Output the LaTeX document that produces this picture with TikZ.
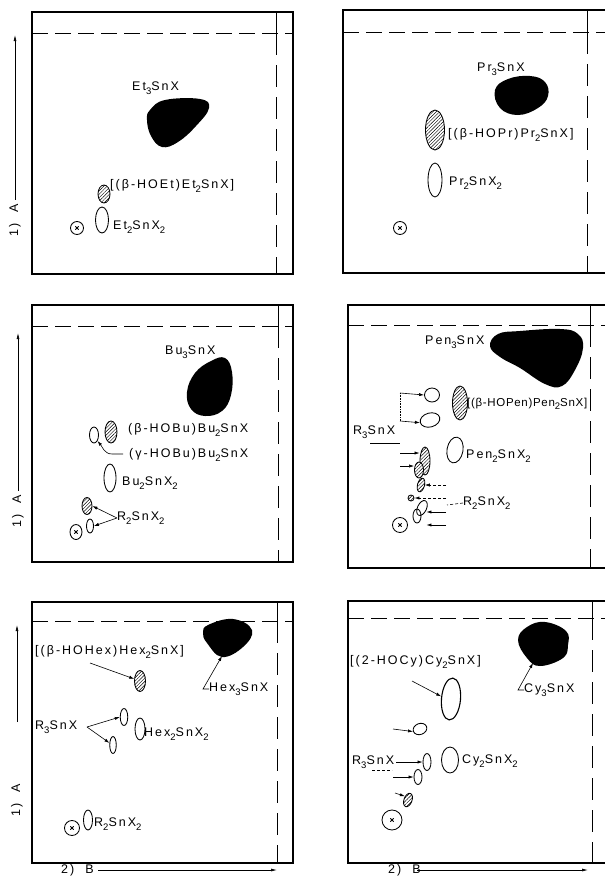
\documentclass[tikz,border=0pt]{standalone}
\usepackage{fontspec}
\setmainfont{Liberation Sans}
\newfontfamily\labf[LetterSpace=16]{Liberation Sans}
\newfontfamily\labn[LetterSpace=6]{Liberation Sans}
\usetikzlibrary{arrows.meta,shapes.geometric,patterns.meta}
\newcommand\sbs[1]{\raisebox{-0.55ex}{\fontsize{9.5}{9.5}\selectfont #1}}
\tikzset{
  frame/.style={line width=1.15pt},
  dsh/.style={line width=0.8pt, dash pattern=on 16pt off 7pt},
  vdsh/.style={line width=0.7pt, dash pattern=on 22pt off 10pt},
  lab/.style={inner sep=0pt, anchor=west, font=\labf\fontsize{12.5}{14}\selectfont},
  labnar/.style={inner sep=0pt, anchor=west, font=\labn\fontsize{11.5}{13}\selectfont},
  axl/.style={inner sep=4pt, font=\labf\fontsize{12.5}{14}\selectfont},
  spot/.style={ellipse, draw, line width=0.85pt, inner sep=0pt},
  hspot/.style={spot, preaction={fill=white}, pattern={Lines[angle=45,distance=2.4pt,line width=0.45pt]}},
  cx/.style={ellipse, draw, line width=0.85pt, inner sep=0pt, minimum size=13pt,
    path picture={\draw[line width=0.8pt]
      ([shift={(-1.7pt,-1.7pt)}]path picture bounding box.center) -- ([shift={(1.7pt,1.7pt)}]path picture bounding box.center)
      ([shift={(-1.7pt,1.7pt)}]path picture bounding box.center) -- ([shift={(1.7pt,-1.7pt)}]path picture bounding box.center);}},
  arr/.style={-{Latex[length=5pt,width=3.2pt]}, line width=0.6pt},
  axarr/.style={-{Latex[length=6pt,width=3pt]}, line width=0.7pt},
  blob/.style={fill=black},
  lead/.style={line width=0.6pt},
}
\begin{document}
\begin{tikzpicture}[x=1pt,y=-1pt]
\useasboundingbox (0,0) rectangle (605,884);
\fill[white] (0,0) rectangle (605,884);
\clip (0,0) rectangle (605,884);

% ================= Panel 1 (Et) =================
\draw[frame] (32,12) rectangle (293,274);
\draw[dsh] (32,33) -- (293,33);
\draw[line width=0.7pt] (276,12) -- (276,33);
\draw[vdsh] (276,33) -- (276,274);
\node[axl, rotate=90] (ax1) at (15,220) {1)~~A};
\coordinate (ax1t) at (15,35);
\draw[axarr] (ax1.east) -- (ax1t);
\fill[blob] plot[smooth cycle, tension=0.7] coordinates {(150,110) (165,100) (200,99) (209,108) (196,126) (178,142) (162,147) (151,136) (147,120)};
\node[lab] (l1a) at (132,88) {Et\sbs{3}SnX};
\node[hspot, minimum width=12pt, minimum height=18pt] (s1b) at (104,194) {};
\node[lab] (l1b) at (110,186) {[(β-HOEt)Et\sbs{2}SnX]};
\node[spot, minimum width=13pt, minimum height=26pt] (s1c) at (102,220) {};
\node[lab] (l1c) at (113,227) {Et\sbs{2}SnX\sbs{2}};
\node[cx] (o1) at (77,228) {};

% ================= Panel 2 (Pr) =================
\draw[frame] (610,10) -- (343,10) -- (343,273) -- (610,273);
\draw[dsh] (343,32) -- (610,32);
\draw[line width=0.7pt] (587,10) -- (587,32);
\draw[vdsh] (587,32) -- (587,273);
\fill[blob] plot[smooth cycle, tension=0.7] coordinates {(495,90) (508,79) (530,76) (545,82) (548,96) (538,108) (518,115) (500,108)};
\node[lab] (l2a) at (477,69) {Pr\sbs{3}SnX};
\node[hspot, minimum width=19pt, minimum height=40pt] (s2b) at (435,130) {};
\node[lab] (l2b) at (448,135) {[(β-HOPr)Pr\sbs{2}SnX]};
\node[spot, minimum width=14pt, minimum height=34pt] (s2c) at (435,180) {};
\node[lab] (l2c) at (449,183) {Pr\sbs{2}SnX\sbs{2}};
\node[cx] (o2) at (400,228) {};

% ================= Panel 3 (Bu) =================
\draw[frame] (32,305) rectangle (293,562);
\draw[dsh] (32,326) -- (293,326);
\draw[line width=0.7pt] (278,305) -- (278,326);
\draw[vdsh] (278,326) -- (278,562);
\node[axl, rotate=90] (ax3) at (18,511) {1)~~A};
\coordinate (ax3t) at (18,333);
\draw[axarr] (ax3.east) -- (ax3t);
\fill[blob] plot[smooth cycle, tension=0.7] coordinates {(187,392) (195,373) (211,361) (225,358) (232,372) (231,395) (222,411) (205,416) (191,409)};
\node[lab] (l3a) at (165,352) {Bu\sbs{3}SnX};
\node[hspot, minimum width=12pt, minimum height=22pt] (s3b) at (111,432) {};
\node[spot, minimum width=9pt, minimum height=16pt] (s3c) at (94,435) {};
\node[lab] (l3b) at (128,430) {(β-HOBu)Bu\sbs{2}SnX};
\node[lab] (l3c) at (129,455) {(γ-HOBu)Bu\sbs{2}SnX};
\coordinate (t3c) at (123,454);
\draw[arr] (t3c) -- (112,454) to[out=180,in=-50] (s3c.south east);
\node[spot, minimum width=12pt, minimum height=28pt] (s3d) at (110,478) {};
\node[lab] (l3d) at (122,483) {Bu\sbs{2}SnX\sbs{2}};
\node[hspot, minimum width=10pt, minimum height=17pt] (s3e) at (87,506) {};
\node[spot, minimum width=7pt, minimum height=14pt] (s3f) at (90,526) {};
\node[lab] (l3e) at (117,518) {R\sbs{2}SnX\sbs{2}};
\draw[arr] (l3e.west) -- (s3e.east);
\draw[arr] (l3e.west) -- (s3f.east);
\node[cx, minimum width=12pt, minimum height=15pt] (o3) at (76,532) {};

% ================= Panel 4 (Pen) =================
\draw[frame] (610,305) -- (348,305) -- (348,568) -- (610,568);
\draw[dsh] (348,325) -- (610,325);
\draw[line width=0.7pt] (590,305) -- (590,325);
\draw[vdsh] (590,325) -- (590,568);
\fill[blob] plot[smooth cycle, tension=0.7] coordinates {(490,346) (498,334) (520,331) (560,329) (578,334) (583,348) (575,370) (562,386) (545,384) (520,368) (500,357)};
\node[lab] (l4a) at (425,342) {Pen\sbs{3}SnX};
\node[spot, minimum width=15pt, minimum height=14pt] (s4a) at (432,395) {};
\node[spot, minimum width=20pt, minimum height=14pt, rotate=15] (s4b) at (430,420) {};
\node[hspot, minimum width=15pt, minimum height=34pt] (s4c) at (460,403) {};
\node[labnar] (l4c) at (467,404) {[(β-HOPen)Pen\sbs{2}SnX]};
\node[lab] (l4r) at (353,432) {R\sbs{3}SnX};
\coordinate (b4t) at (400,393);
\coordinate (b4m) at (400,421);
\draw[lead, densely dotted] (b4t) -- (b4m);
\draw[arr] (b4t) -- (s4a.west);
\draw[arr] (b4m) -- (s4b.west);
\coordinate (u4a) at (370,443);
\coordinate (u4b) at (400,443);
\draw[lead] (u4a) -- (u4b);
\node[hspot, minimum width=10pt, minimum height=28pt] (s4d) at (425,461) {};
\node[hspot, minimum width=9pt, minimum height=16pt] (s4e) at (419,470) {};
\coordinate (a4c) at (400,453);
\coordinate (a4d) at (400,466);
\draw[arr] (a4c) -- (a4c -| s4d.west);
\draw[arr] (a4d) -- (a4d -| s4e.west);
\node[hspot, minimum width=7pt, minimum height=14pt, rotate=-15] (s4f) at (421,485) {};
\node[hspot, minimum size=6pt] (s4g) at (411,498) {};
\node[spot, minimum width=9pt, minimum height=16pt, rotate=-25] (s4h) at (422,508) {};
\node[spot, minimum width=8pt, minimum height=14pt] (s4i) at (417,516) {};
\node[cx, minimum size=15pt] (o4) at (400,525) {};
\coordinate (t4a) at (446,485);
\coordinate (t4b) at (446,498);
\coordinate (t4c) at (446,512);
\coordinate (t4d) at (446,525);
\draw[arr, densely dashed] (t4a) -- (t4a -| s4f.east);
\draw[arr, densely dashed] (t4b) -- (t4b -| s4g.east);
\draw[arr] (t4c) -- (t4c -| s4h.east);
\draw[arr] (t4d) -- (t4d -| s4h.east);
\node[spot, minimum width=16pt, minimum height=26pt, rotate=-10] (s4j) at (455,450) {};
\node[lab] (l4j) at (466,456) {Pen\sbs{2}SnX\sbs{2}};
\node[lab] (l4k) at (463,503) {R\sbs{2}SnX\sbs{2}};
\coordinate (t4l) at (447,505);
\draw[lead, densely dashed] (l4k.west) -- (t4l);

% ================= Panel 5 (Hex) =================
\draw[frame] (32,602) rectangle (293,863);
\draw[dsh] (32,621) -- (293,621);
\draw[line width=0.7pt] (277,602) -- (277,621);
\draw[vdsh] (277,621) -- (277,863);
\node[axl, rotate=90] (ax5) at (17,800) {1)~~A};
\coordinate (ax5b) at (17,722);
\coordinate (ax5t) at (17,625);
\draw[axarr] (ax5b) -- (ax5t);
\node[axl, anchor=west, inner sep=0pt] (bx5) at (61,870) {2)~~B};
\coordinate (bx5s) at (98,870);
\coordinate (bx5t) at (277,870);
\draw[axarr] (bx5s) -- (bx5t);
\fill[blob] plot[smooth cycle, tension=0.7] coordinates {(208,625) (233,619) (252,630) (243,647) (222,657) (207,643) (203,633)};
\coordinate (h5) at (222,656);
\node[lab] (l5a) at (209,689) {Hex\sbs{3}SnX};
\draw[arr] (l5a.west) -- ++(-6pt,0pt) -- (h5);
\node[hspot, minimum width=11pt, minimum height=21pt] (s5b) at (140,681) {};
\node[lab] (l5b) at (35,652) {[(β-HOHex)Hex\sbs{2}SnX]};
\coordinate (t5b) at (90,663);
\draw[arr] (t5b) -- (s5b.160);
\node[spot, minimum width=7.5pt, minimum height=17pt] (s5c) at (124,717) {};
\node[spot, minimum width=6.5pt, minimum height=17pt] (s5d) at (113,745) {};
\node[spot, minimum width=10pt, minimum height=22pt] (s5e) at (140,729) {};
\node[lab] (l5e) at (144,734) {Hex\sbs{2}SnX\sbs{2}};
\node[lab] (l5r) at (35,727) {R\sbs{3}SnX};
\coordinate (t5r) at (87,727);
\draw[arr] (t5r) -- (s5c.west);
\draw[arr] (t5r) -- (s5d.150);
\node[cx, minimum size=15pt] (o5) at (72,828) {};
\node[spot, minimum width=9pt, minimum height=20pt] (s5f) at (88,820) {};
\node[lab] (l5f) at (94,824) {R\sbs{2}SnX\sbs{2}};

% ================= Panel 6 (Cy) =================
\draw[frame] (610,601) -- (348,601) -- (348,863) -- (610,863);
\draw[dsh] (348,618) -- (610,618);
\draw[line width=0.7pt] (592,601) -- (592,618);
\draw[vdsh] (592,618) -- (592,863);
\node[axl, anchor=west, inner sep=0pt] (bx6) at (388,870) {2)~~B};
\coordinate (bx6s) at (417,870);
\coordinate (bx6t) at (588,870);
\draw[axarr] (bx6s) -- (bx6t);
\fill[blob] plot[smooth cycle, tension=0.7] coordinates {(545,622) (566,631) (568,645) (563,658) (540,666) (527,658) (518,640) (527,627)};
\coordinate (c6) at (533,663);
\node[lab] (l6a) at (524,690) {Cy\sbs{3}SnX};
\draw[arr] (l6a.west) -- ++(-6pt,0pt) -- (c6);
\node[spot, line width=1.1pt, minimum width=19pt, minimum height=42pt, rotate=-5] (s6b) at (451,699) {};
\node[lab] (l6b) at (350,662) {[(2-HOCy)Cy\sbs{2}SnX]};
\coordinate (t6b) at (412,681);
\draw[arr] (t6b) -- (s6b.170);
\node[spot, minimum width=14pt, minimum height=11pt, rotate=20] (s6c) at (420,729) {};
\coordinate (t6c) at (393,729);
\draw[arr] (t6c) -- (s6c.west);
\node[lab] (l6r) at (352,762) {R\sbs{3}SnX};
\node[spot, minimum width=8pt, minimum height=17pt] (s6d) at (427,762) {};
\draw[arr] ([xshift=2pt]l6r.east) -- (s6d.west);
\coordinate (u6a) at (372,770);
\coordinate (u6b) at (392,770);
\draw[lead, densely dashed] (u6a) -- (u6b);
\node[spot, minimum width=17pt, minimum height=26pt] (s6e) at (450,760) {};
\node[lab] (l6e) at (462,761) {Cy\sbs{2}SnX\sbs{2}};
\node[spot, minimum width=8pt, minimum height=15pt] (s6f) at (418,777) {};
\coordinate (t6f) at (393,777);
\draw[arr] (t6f) -- (s6f.west);
\node[hspot, minimum width=8pt, minimum height=14pt, rotate=-20] (s6g) at (408,800) {};
\coordinate (t6g) at (395,793);
\draw[arr] (t6g) -- (s6g.150);
\node[cx, minimum size=20pt] (o6) at (392,820) {};
\end{tikzpicture}
\end{document}
